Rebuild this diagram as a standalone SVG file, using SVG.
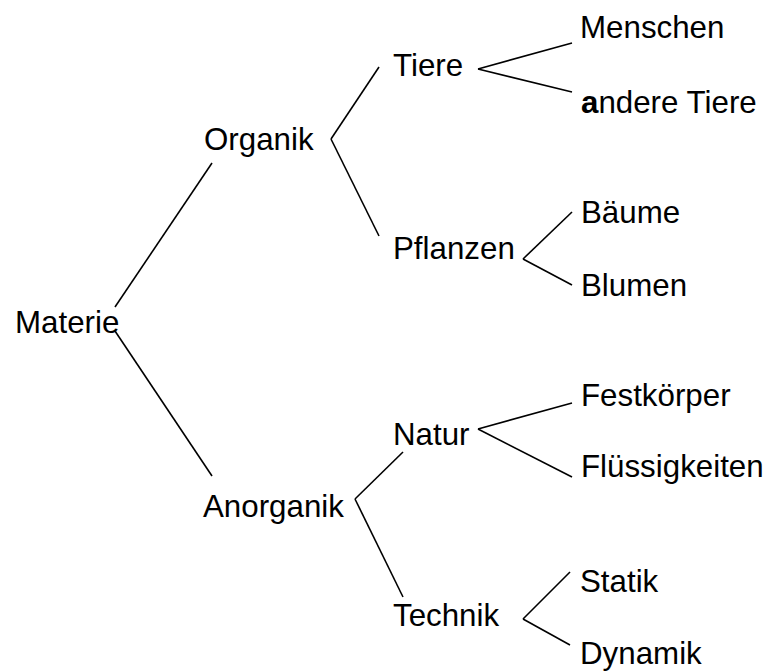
<svg xmlns="http://www.w3.org/2000/svg" width="772" height="671" viewBox="0 0 772 671">
<style>
text{font-family:"Liberation Sans",Arial,sans-serif;font-size:31.3px;fill:#000}
.c line{stroke:#000;stroke-width:1.6;fill:none}
</style>
<rect width="772" height="671" fill="#fff"/>
<g class="c" id="connectors">
<line x1="115" y1="307" x2="212" y2="163"/>
<line x1="115" y1="331" x2="212" y2="476"/>
<line x1="379" y1="67" x2="331" y2="139"/>
<line x1="331" y1="139" x2="379" y2="236"/>
<line x1="572" y1="43" x2="478" y2="69"/>
<line x1="478" y1="69" x2="572" y2="92"/>
<line x1="572" y1="212" x2="523" y2="259"/>
<line x1="523" y1="259" x2="572" y2="285"/>
<line x1="572" y1="403" x2="478" y2="429"/>
<line x1="478" y1="429" x2="572" y2="477"/>
<line x1="403" y1="452" x2="355" y2="499"/>
<line x1="355" y1="499" x2="403" y2="597"/>
<line x1="570" y1="572" x2="523" y2="619"/>
<line x1="523" y1="619" x2="570" y2="645"/>
</g>
<g id="materie"><text x="15" y="333">Materie</text></g>
<g id="organik"><text x="204" y="150">Organik</text></g>
<g id="anorganik"><text x="203" y="517">Anorganik</text></g>
<g id="tiere"><text x="393" y="76">Tiere</text></g>
<g id="pflanzen"><text x="393" y="259">Pflanzen</text></g>
<g id="natur"><text x="393" y="445">Natur</text></g>
<g id="technik"><text x="393" y="626">Technik</text></g>
<g id="menschen"><text x="580" y="38">Menschen</text></g>
<g id="andere-tiere"><text x="581" y="113"><tspan font-weight="bold">a</tspan>ndere Tiere</text></g>
<g id="baeume"><text x="581" y="223">Bäume</text></g>
<g id="blumen"><text x="581" y="296">Blumen</text></g>
<g id="festkoerper"><text x="581" y="406">Festkörper</text></g>
<g id="fluessigkeiten"><text x="581" y="477">Flüssigkeiten</text></g>
<g id="statik"><text x="580" y="592">Statik</text></g>
<g id="dynamik"><text x="580" y="664">Dynamik</text></g>
</svg>
